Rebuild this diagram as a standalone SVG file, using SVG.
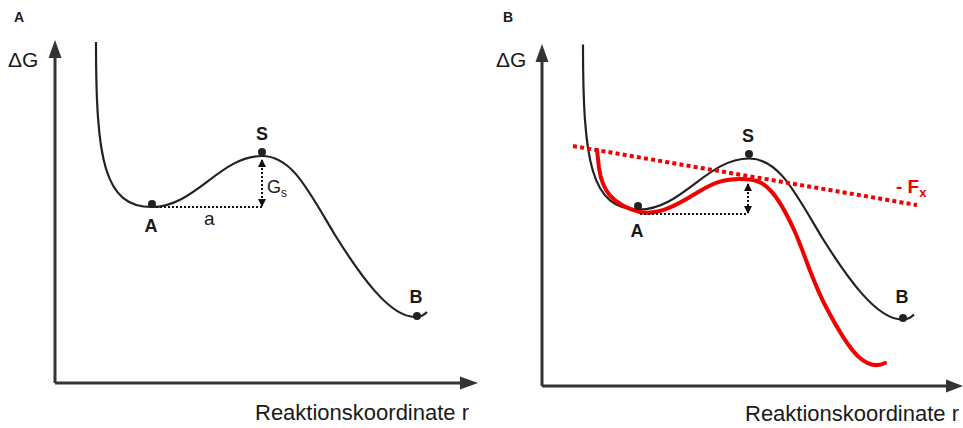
<svg xmlns="http://www.w3.org/2000/svg" width="963" height="428" viewBox="0 0 963 428">
<style>
text{font-family:"Liberation Sans",Arial,sans-serif;fill:#1a1a1a}
.b{font-weight:bold}
.ax{stroke:#333;stroke-width:3;fill:none}
.ah{fill:#333}
.crv{stroke:#222;stroke-width:2.2;fill:none}
.dot{fill:#222}
.dl{stroke:#111;stroke-width:2;stroke-dasharray:2,2;fill:none}
.red{stroke:#f00000;fill:none}
</style>
<defs>
<marker id="sa" viewBox="0 0 8 8" refX="7" refY="4" markerWidth="8" markerHeight="8" markerUnits="userSpaceOnUse" orient="auto-start-reverse">
<path d="M0,0 L8,4 L0,8 Z" fill="#111"/>
</marker>
<path id="curve" d="M96,42 C96,160 104,207 152,207 C195,207 220,156 262,156 C292,156 308,190 335,235 C360,275 390,318 416,317 C421,317 424,315 427,312"/>
</defs>

<g id="panelA">
<text class="b" x="14" y="22" font-size="14">A</text>
<g id="axesA">
<line class="ax" x1="55" y1="383" x2="55" y2="56"/>
<polygon class="ah" points="55,40 48.5,58 61.5,58"/>
<line class="ax" x1="55" y1="383" x2="462" y2="383"/>
<polygon class="ah" points="478,383 460,376.5 460,389.5"/>
<text x="8" y="67" font-size="21">ΔG</text>
<text x="255" y="420" font-size="22">Reaktionskoordinate r</text>
</g>
<use href="#curve" class="crv"/>
<g id="nodeA_A"><circle class="dot" cx="152" cy="204" r="4"/><text class="b" x="151" y="232" font-size="18" text-anchor="middle">A</text></g>
<g id="nodeA_S"><circle class="dot" cx="262" cy="152" r="4"/><text class="b" x="262" y="140" font-size="18" text-anchor="middle">S</text></g>
<g id="nodeA_B"><circle class="dot" cx="417" cy="316" r="4"/><text class="b" x="416" y="303" font-size="18" text-anchor="middle">B</text></g>
<g id="connectorsA">
<line class="dl" x1="156" y1="207" x2="262" y2="207"/>
<line class="dl" x1="262" y1="160" x2="262" y2="206" marker-start="url(#sa)" marker-end="url(#sa)"/>
</g>
<text x="204" y="225" font-size="19">a</text>
<text x="267" y="193" font-size="18">G<tspan font-size="12" dy="4">s</tspan></text>
</g>

<g id="panelB">
<text class="b" x="503" y="22" font-size="14">B</text>
<g id="axesB">
<line class="ax" x1="542" y1="386" x2="542" y2="60"/>
<polygon class="ah" points="542,44 535.5,62 548.5,62"/>
<line class="ax" x1="542" y1="386" x2="946" y2="386"/>
<polygon class="ah" points="963,386 946,379.5 946,392.5"/>
<text x="496" y="67" font-size="21">ΔG</text>
<text x="745" y="421" font-size="22">Reaktionskoordinate r</text>
</g>
<use href="#curve" class="crv" transform="translate(487,2.5)"/>
<g id="connectorsB">
<line class="red" stroke-width="4" stroke-dasharray="4,3.2" x1="573" y1="146" x2="917" y2="205"/>
<path class="red" stroke-width="4" stroke-linecap="round" stroke-linejoin="round" d="M597,150 L599,168 C602,190 612,205 640,212 C660,216 680,203 700,191 C715,182 725,179 740,179 C755,179 763,182 770,190 C778,198 785,210 795,232 C805,255 812,280 825,305 C838,330 850,350 860,358 C867,364 875,368 885,363"/>
<line class="dl" x1="640" y1="214" x2="748" y2="214"/>
<line class="dl" x1="748" y1="184" x2="748" y2="213" marker-start="url(#sa)" marker-end="url(#sa)"/>
</g>
<g id="nodeB_A"><circle class="dot" cx="638" cy="206" r="4"/><text class="b" x="637" y="237" font-size="18" text-anchor="middle">A</text></g>
<g id="nodeB_S"><circle class="dot" cx="749" cy="154" r="4"/><text class="b" x="748" y="142" font-size="18" text-anchor="middle">S</text></g>
<g id="nodeB_B"><circle class="dot" cx="903" cy="318" r="4"/><text class="b" x="902" y="303" font-size="18" text-anchor="middle">B</text></g>
<text class="b" x="896" y="193" font-size="19" style="fill:#f00000">- F<tspan font-size="13" dy="4">x</tspan></text>
</g>
</svg>
